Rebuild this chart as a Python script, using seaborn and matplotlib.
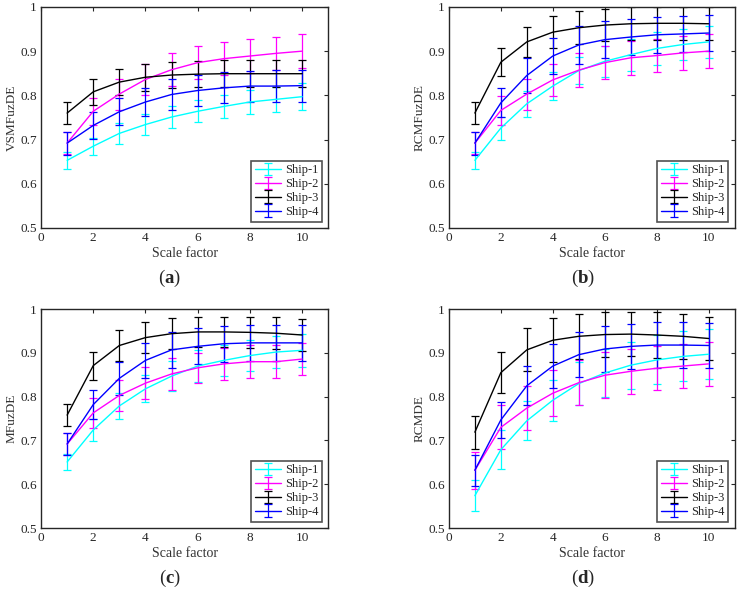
import numpy as np
import pandas as pd
import matplotlib
matplotlib.use('Agg')
import matplotlib.pyplot as plt
import seaborn as sns

# data
scale = [1, 2, 3, 4, 5, 6, 7, 8, 9, 10]
ships = ['Ship-1', 'Ship-2', 'Ship-3', 'Ship-4']
colors = ['#00FFFF', '#FF00FF', '#000000', '#0000FF']

# (a) VSMFuzDE
a_mean = [
    [0.653, 0.685, 0.714, 0.734, 0.751, 0.764, 0.775, 0.785, 0.791, 0.797],
    [0.692, 0.764, 0.803, 0.836, 0.858, 0.874, 0.883, 0.889, 0.895, 0.900],
    [0.760, 0.808, 0.830, 0.841, 0.846, 0.848, 0.849, 0.849, 0.849, 0.849],
    [0.692, 0.732, 0.763, 0.785, 0.802, 0.811, 0.817, 0.821, 0.821, 0.822],
]
a_err = [
    [0.019, 0.019, 0.024, 0.024, 0.025, 0.025, 0.026, 0.028, 0.028, 0.030],
    [0.025, 0.031, 0.035, 0.035, 0.037, 0.037, 0.037, 0.039, 0.038, 0.039],
    [0.025, 0.029, 0.029, 0.030, 0.030, 0.030, 0.031, 0.031, 0.031, 0.031],
    [0.026, 0.030, 0.031, 0.032, 0.034, 0.035, 0.035, 0.035, 0.036, 0.036],
]

# (b) RCMFuzDE
b_mean = [
    [0.653, 0.726, 0.781, 0.821, 0.856, 0.877, 0.892, 0.906, 0.915, 0.921],
    [0.692, 0.766, 0.803, 0.835, 0.857, 0.874, 0.885, 0.890, 0.896, 0.900],
    [0.760, 0.875, 0.921, 0.943, 0.953, 0.959, 0.962, 0.963, 0.963, 0.962],
    [0.692, 0.783, 0.845, 0.889, 0.914, 0.926, 0.932, 0.937, 0.939, 0.941],
]
b_err = [
    [0.019, 0.026, 0.029, 0.031, 0.031, 0.035, 0.036, 0.038, 0.036, 0.036],
    [0.025, 0.032, 0.035, 0.037, 0.038, 0.038, 0.039, 0.038, 0.038, 0.038],
    [0.025, 0.032, 0.034, 0.036, 0.037, 0.037, 0.037, 0.037, 0.037, 0.037],
    [0.026, 0.033, 0.039, 0.041, 0.042, 0.042, 0.041, 0.041, 0.040, 0.040],
]

# (c) MFuzDE
c_mean = [
    [0.651, 0.724, 0.779, 0.818, 0.847, 0.870, 0.883, 0.894, 0.902, 0.906],
    [0.692, 0.763, 0.803, 0.831, 0.852, 0.866, 0.875, 0.880, 0.880, 0.886],
    [0.758, 0.871, 0.917, 0.935, 0.944, 0.948, 0.948, 0.947, 0.945, 0.941],
    [0.692, 0.782, 0.842, 0.883, 0.907, 0.915, 0.921, 0.923, 0.923, 0.923],
]
c_err = [
    [0.018, 0.026, 0.030, 0.031, 0.034, 0.037, 0.036, 0.036, 0.037, 0.038],
    [0.025, 0.034, 0.036, 0.037, 0.037, 0.035, 0.037, 0.037, 0.037, 0.037],
    [0.025, 0.032, 0.035, 0.035, 0.035, 0.035, 0.035, 0.035, 0.036, 0.036],
    [0.026, 0.033, 0.038, 0.040, 0.041, 0.041, 0.041, 0.041, 0.041, 0.041],
]

# (d) RCMDE
d_mean = [
    [0.574, 0.679, 0.745, 0.792, 0.830, 0.854, 0.872, 0.884, 0.892, 0.897],
    [0.632, 0.730, 0.774, 0.808, 0.832, 0.849, 0.858, 0.865, 0.870, 0.875],
    [0.719, 0.855, 0.907, 0.929, 0.938, 0.942, 0.943, 0.941, 0.938, 0.933],
    [0.632, 0.747, 0.825, 0.870, 0.896, 0.909, 0.915, 0.918, 0.918, 0.917],
]
d_err = [
    [0.036, 0.045, 0.045, 0.047, 0.050, 0.054, 0.054, 0.056, 0.057, 0.057],
    [0.042, 0.050, 0.051, 0.052, 0.052, 0.053, 0.051, 0.050, 0.050, 0.050],
    [0.038, 0.047, 0.049, 0.050, 0.051, 0.051, 0.051, 0.052, 0.051, 0.049],
    [0.035, 0.042, 0.045, 0.050, 0.052, 0.053, 0.052, 0.052, 0.052, 0.052],
]

ylabels = ['VSMFuzDE', 'RCMFuzDE', 'MFuzDE', 'RCMDE']
panel_tags = ['a', 'b', 'c', 'd']
yticks = [0.5, 0.6, 0.7, 0.8, 0.9, 1.0]
ytick_labels = ['0.5', '0.6', '0.7', '0.8', '0.9', '1']
xticks = [0, 2, 4, 6, 8, 10]

sns.set_theme(style='white')
plt.rcParams['font.family'] = ['Liberation Serif', 'DejaVu Serif']
plt.rcParams['mathtext.fontset'] = 'custom'
plt.rcParams['mathtext.rm'] = 'Liberation Serif'
plt.rcParams['mathtext.bf'] = 'Liberation Serif:bold'

fig = plt.figure(figsize=(7.42, 5.9), dpi=100)
positions = [
    [0.0553, 0.6136, 0.387, 0.3746],
    [0.605, 0.6136, 0.385, 0.3746],
    [0.0553, 0.105, 0.387, 0.371],
    [0.605, 0.105, 0.385, 0.371],
]
label_xy = [(0.229, 0.528), (0.786, 0.528), (0.229, 0.02), (0.786, 0.02)]

panels = [(a_mean, a_err), (b_mean, b_err), (c_mean, c_err), (d_mean, d_err)]

for k, (means, errs) in enumerate(panels):
    ax = fig.add_axes(positions[k])
    for i in range(4):
        df = pd.DataFrame({'scale': scale, 'value': means[i], 'err': errs[i]})
        ax.errorbar(df['scale'], df['value'], yerr=df['err'], color=colors[i],
                    ecolor=colors[i], elinewidth=0.9, lw=1.0, capsize=3,
                    capthick=0.9, label=ships[i])
    ax.set_xlim(0, 11)
    ax.set_ylim(0.5, 1.0)
    ax.set_xticks(xticks)
    ax.set_yticks(yticks)
    ax.set_yticklabels(ytick_labels)
    ax.tick_params(direction='in', top=True, right=True, length=3, pad=3,
                   labelsize=9.5, width=0.8, colors='#262626')
    for s in ax.spines.values():
        s.set_color('#262626')
        s.set_linewidth(1.0)
    ax.set_xlabel('Scale factor', fontsize=10, labelpad=2, color='#333333')
    ax.set_ylabel(ylabels[k], fontsize=9.5, labelpad=2, color='#333333')
    leg = ax.legend(loc='lower right', fontsize=9, fancybox=False,
                    frameon=True, borderpad=0.3, labelspacing=0.15,
                    handlelength=2.1, handletextpad=0.3, borderaxespad=0.5)
    leg.get_frame().set_edgecolor('#262626')
    leg.get_frame().set_linewidth(1.2)
    fig.text(label_xy[k][0], label_xy[k][1], r'($\mathbf{' + panel_tags[k] + '}$)',
             ha='center', va='center', fontsize=13.5)

fig.savefig('out.png', dpi=100)
